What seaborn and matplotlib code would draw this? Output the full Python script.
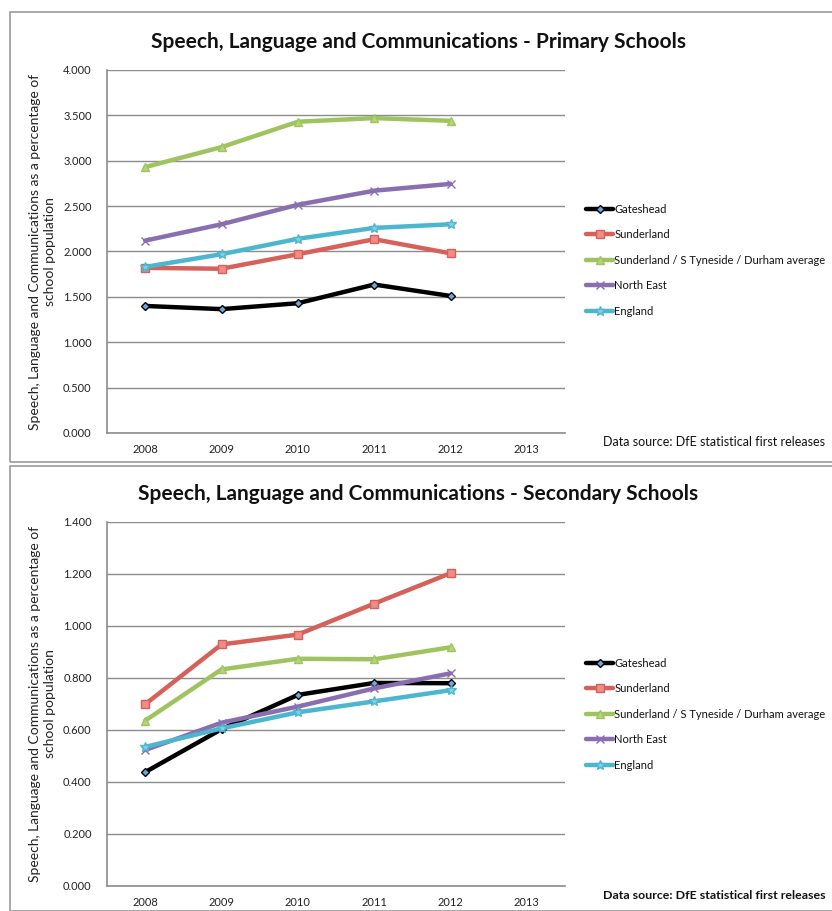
import matplotlib
matplotlib.use("Agg")
from matplotlib import pyplot as plt
from matplotlib.patches import Rectangle
import numpy as np
import pandas as pd
import seaborn as sns

# data
years = [2008, 2009, 2010, 2011, 2012]
year_labels = ["2008", "2009", "2010", "2011", "2012", "2013"]
series_names = ["Gateshead", "Sunderland", "Sunderland / S Tyneside / Durham average",
                "North East", "England"]

primary_gateshead = [1.40, 1.365, 1.43, 1.636, 1.51]
primary_sunderland = [1.82, 1.81, 1.97, 2.135, 1.98]
primary_average = [2.93, 3.15, 3.43, 3.47, 3.44]
primary_north_east = [2.12, 2.30, 2.515, 2.67, 2.745]
primary_england = [1.83, 1.97, 2.14, 2.26, 2.30]

secondary_gateshead = [0.438, 0.603, 0.735, 0.781, 0.780]
secondary_sunderland = [0.699, 0.929, 0.967, 1.086, 1.203]
secondary_average = [0.636, 0.833, 0.874, 0.872, 0.918]
secondary_north_east = [0.523, 0.628, 0.690, 0.760, 0.818]
secondary_england = [0.535, 0.606, 0.668, 0.710, 0.753]

line_colors = ["#000000", "#d6605a", "#9fc35f", "#8a6fb0", "#4db6cf"]
marker_styles = ["D", "s", "^", "x", "*"]
marker_faces = ["#6fa8dc", "#ef8c84", "#b5d47c", "#a58fcb", "#7fd0e4"]
marker_sizes = [4, 6, 6, 6, 7]

sns.set_theme(style="white")
plt.rcParams["font.family"] = ["Lato", "DejaVu Sans"]

fig = plt.figure(figsize=(8.32, 9.11), dpi=100)

# panel frames like the spreadsheet chart boxes
for y0, h in [(1 - 462 / 911, 450 / 911), (0, 445 / 911)]:
    fig.patches.append(Rectangle((10 / 832, y0), 1.0, h, transform=fig.transFigure,
                                 fill=False, edgecolor="#9a9a9a", linewidth=1.2))


def draw_panel(ax, data, title, ymax, ystep, source_bold, leg_y):
    for name, vals, c, m, fc, ms in zip(series_names, data, line_colors, marker_styles,
                                        marker_faces, marker_sizes):
        sns.lineplot(x=years, y=vals, ax=ax, color=c, linewidth=3.2, marker=m,
                     markersize=ms, markerfacecolor=fc, markeredgecolor=c,
                     markeredgewidth=1.0, label=name)
    ax.set_xlim(2007.5, 2013.5)
    ax.set_ylim(0, ymax)
    ax.set_yticks(np.arange(0, ymax + ystep / 2, ystep))
    ax.set_yticklabels([f"{v:.3f}" for v in np.arange(0, ymax + ystep / 2, ystep)])
    ax.set_xticks(np.arange(2007.5, 2014, 1.0))
    ax.set_xticklabels([])
    ax.set_xticks(np.arange(2008, 2014), minor=True)
    ax.set_xticklabels(year_labels, minor=True)
    ax.tick_params(axis="x", which="major", length=5, color="#8c8c8c", width=1, direction="out")
    ax.tick_params(axis="x", which="minor", length=0, labelsize=8, pad=8, colors="#222222")
    ax.tick_params(axis="y", length=5, color="#8c8c8c", width=1, direction="out",
                   labelsize=8, pad=6, colors="#222222")
    ax.yaxis.grid(True, color="#8c8c8c", linewidth=1)
    ax.xaxis.grid(False)
    ax.set_axisbelow(True)
    for s in ["top", "right"]:
        ax.spines[s].set_visible(False)
    for s in ["left", "bottom"]:
        ax.spines[s].set_color("#8c8c8c")
        ax.spines[s].set_linewidth(1.2)
    ax.set_xlabel("")
    ax.set_ylabel("Speech, Language and Communications as a percentage of\nschool population",
                  fontsize=10, color="#222222", labelpad=5, linespacing=1.35)
    ax.set_title(title, fontsize=15, fontweight="bold", pad=16, color="#111111", x=0.68)
    leg = ax.legend(loc="center left", bbox_to_anchor=(1.025, leg_y), frameon=False,
                    fontsize=8, handlelength=2.4, handletextpad=0.1, labelspacing=1.3)
    for t in leg.get_texts():
        t.set_color("#111111")
    ax.text(1.568, -0.025, "Data source: DfE statistical first releases", transform=ax.transAxes,
            ha="right", va="center", fontsize=8.9 if source_bold else 9,
            fontweight="bold" if source_bold else "normal", color="#111111")


ax1 = fig.add_axes([107 / 832, 1 - 433 / 911, 458 / 832, 363 / 911])
draw_panel(ax1, [primary_gateshead, primary_sunderland, primary_average,
                 primary_north_east, primary_england],
           "Speech, Language and Communications - Primary Schools", 4.0, 0.5, False, 0.476)

ax2 = fig.add_axes([107 / 832, 1 - 886 / 911, 458 / 832, 364 / 911])
draw_panel(ax2, [secondary_gateshead, secondary_sunderland, secondary_average,
                 secondary_north_east, secondary_england],
           "Speech, Language and Communications - Secondary Schools", 1.4, 0.2, True, 0.472)

fig.savefig("out.png", dpi=100)
